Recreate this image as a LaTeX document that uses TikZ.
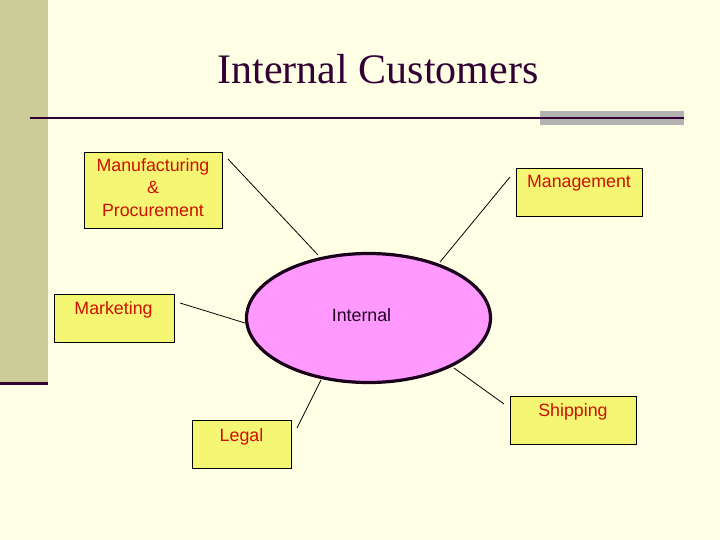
\documentclass[tikz,border=0pt]{standalone}
\usepackage{fontspec}
\setmainfont{Liberation Serif}
\setsansfont{Liberation Sans}
\usetikzlibrary{shapes.geometric}
\definecolor{bgc}{HTML}{FFFFE5}
\definecolor{barc}{HTML}{CCCC99}
\definecolor{darkc}{HTML}{330033}
\definecolor{grayc}{HTML}{B2B2B2}
\definecolor{boxfill}{HTML}{F6F675}
\definecolor{boxtext}{HTML}{CC1100}
\definecolor{ellfill}{HTML}{FF99FF}
\definecolor{ellline}{HTML}{1A001A}
\definecolor{inttext}{HTML}{220022}
\begin{document}
\begin{tikzpicture}[x=1pt,y=-1pt,
  boxstyle/.style={draw=black, line width=0.9pt, fill=boxfill, rectangle, inner sep=0pt},
  boxlabel/.style={font=\sffamily\fontsize{17.8}{22}\selectfont, text=boxtext, anchor=base, inner sep=0pt, align=center},
  conn/.style={draw=black, line width=0.8pt},
  titlestyle/.style={font=\fontsize{42}{48}\selectfont, text=darkc, anchor=base, inner sep=0pt}
]
\useasboundingbox (0,0) rectangle (720,540);
\fill[bgc] (0,0) rectangle (720,540);
\fill[barc] (0,0) rectangle (48,383);
\fill[darkc] (0,381.5) rectangle (48,385);
\fill[grayc] (540,111) rectangle (684,125);
\draw[darkc, line width=2pt] (30,118) -- (684,118);
\node[titlestyle] (title) at (378,84) {Internal Customers};

% boxes
\node[boxstyle, minimum width=138pt, minimum height=76pt] (manu) at (153,190) {};
\node[boxstyle, minimum width=126pt, minimum height=48pt] (mgmt) at (579,192) {};
\node[boxstyle, minimum width=120pt, minimum height=48pt] (mkt) at (114,318) {};
\node[boxstyle, minimum width=99pt, minimum height=48pt] (legal) at (241.5,444) {};
\node[boxstyle, minimum width=126pt, minimum height=48pt] (ship) at (573,420) {};

% labels
\node[boxlabel] (manut1) at (153,172) {Manufacturing};
\node[boxlabel] (manut2) at (153,194) {\&};
\node[boxlabel] (manut3) at (153,216) {Procurement};
\node[boxlabel] (mgmtt) at (579,188) {Management};
\node[boxlabel] (mktt) at (113.5,314) {Marketing};
\node[boxlabel] (legalt) at (241.5,441) {Legal};
\node[boxlabel] (shipt) at (573,416) {Shipping};

% ellipse
\node[ellipse, draw=ellline, line width=3.2pt, fill=ellfill, inner sep=0pt,
      minimum width=244pt, minimum height=129pt] (int) at (368.5,318) {};
\node[font=\sffamily\fontsize{17.8}{22}\selectfont, text=inttext, anchor=base, inner sep=0pt] (intt) at (361.5,321) {Internal};

% connector endpoints
\coordinate (cmanu) at (228,159);
\coordinate (emanu) at (318,255);
\coordinate (cmgmt) at (510,177);
\coordinate (emgmt) at (440,262);
\coordinate (cmkt) at (180,303);
\coordinate (emkt) at (245,323);
\coordinate (clegal) at (297,428);
\coordinate (elegal) at (321,380);
\coordinate (cship) at (504,404);
\coordinate (eship) at (454,368);

\draw[conn] (cmanu) -- (emanu);
\draw[conn] (cmgmt) -- (emgmt);
\draw[conn] (cmkt) -- (emkt);
\draw[conn] (clegal) -- (elegal);
\draw[conn] (cship) -- (eship);
\end{tikzpicture}
\end{document}
